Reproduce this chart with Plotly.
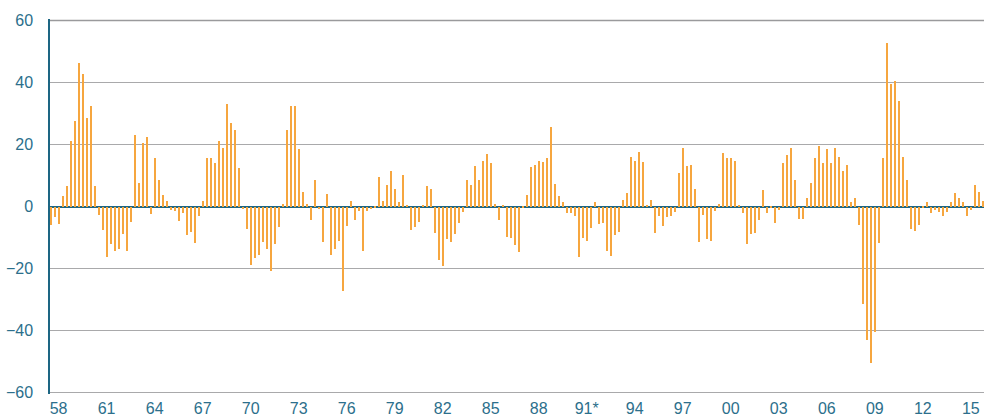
import plotly.graph_objects as go

# quarterly change, % (1958 Q1 onwards)
first_year = 1958
values = [
    -5.9, -3.4, -5.6, 3.3, 6.7, 21.0, 27.7, 46.2, 42.7, 28.5,
    32.3, 6.5, -2.7, -7.7, -16.3, -12.2, -14.3, -13.7, -8.9, -14.3,
    -5.1, 23.2, 7.7, 20.6, 22.3, -2.4, 15.5, 8.4, 3.8, 1.9,
    -1.0, -1.3, -4.8, -2.2, -9.2, -8.2, -11.8, -3.2, 1.8, 15.8,
    15.8, 14.0, 21.2, 19.0, 33.2, 27.0, 24.8, 12.3, -0.8, -7.4,
    -18.9, -16.6, -15.8, -11.6, -13.7, -20.8, -12.2, -6.6, 0.8, 24.6,
    32.3, 32.3, 18.4, 4.8, 0.8, -4.5, 8.7, -0.8, -11.4, 4.0,
    -15.7, -13.7, -11.0, -27.2, -6.3, 1.8, -4.2, -1.5, -14.3, -1.5,
    -0.8, -0.3, 9.4, 1.8, 7.0, 11.4, 5.7, 1.3, 10.2, 0.2,
    -7.6, -6.5, -5.1, 0.4, 6.7, 5.5, -8.4, -17.4, -19.2, -10.4,
    -11.5, -8.9, -5.2, -1.8, 8.7, 7.0, 13.1, 8.4, 14.8, 17.0,
    14.0, 0.8, -4.5, 0.2, -9.9, -10.1, -12.5, -14.8, -0.6, 3.7,
    12.9, 13.4, 14.8, 14.3, 15.5, 25.5, 7.2, 3.3, 1.6, -2.2,
    -2.2, -3.0, -16.3, -10.1, -11.0, -6.9, 1.6, -5.7, -5.4, -14.5,
    -16.0, -9.2, -8.1, 2.2, 4.5, 16.1, 14.8, 17.5, 14.5, 0.4,
    2.2, -8.4, -3.0, -6.2, -3.5, -3.2, -1.8, 10.9, 19.0, 13.1,
    13.4, 5.8, -11.4, -2.8, -10.4, -11.1, -1.6, 0.8, 17.3, 15.8,
    15.8, 14.6, 0.2, -2.2, -12.2, -8.9, -8.4, -4.2, 5.2, -2.2,
    -0.2, -5.4, -1.0, 14.0, 16.7, 18.8, 8.7, -4.0, -4.0, 2.8,
    7.7, 15.8, 19.4, 13.9, 18.4, 14.1, 19.0, 16.0, 11.3, 13.4,
    1.6, 2.8, -6.0, -31.6, -43.1, -50.6, -40.4, -11.8, 15.8, 52.9,
    39.4, 40.5, 34.1, 16.0, 8.4, -7.1, -8.0, -6.0, -0.5, 1.3,
    -2.0, -1.2, -1.8, -3.2, -1.8, 1.6, 4.3, 2.6, 1.3, -3.0,
    -1.2, 6.8, 4.8, 1.9,
]
tick_years = list(range(1958, 2016, 3))
tick_labels = ["58", "61", "64", "67", "70", "73", "76", "79", "82", "85",
               "88", "91*", "94", "97", "00", "03", "06", "09", "12", "15"]

quarters = [first_year + i / 4 for i in range(len(values))]

TEAL = "#2c6f8c"
AXIS_TEAL = "#1d6683"
ORANGE = "#f6a63f"
GRID = "#a9a9ab"

Y_LO, Y_HI = -60.5, 60.5  # padding so plotly keeps the -60 gridline

fig = go.Figure()
fig.add_trace(go.Bar(
    x=quarters,
    y=values,
    width=0.11,
    marker=dict(color=ORANGE, line=dict(width=0)),
    hoverinfo="x+y",
))

top_rule = (60 - Y_LO) / (Y_HI - Y_LO)

fig.update_layout(
    width=984, height=416,
    margin=dict(l=50, r=0, t=19, b=22),
    paper_bgcolor="white",
    plot_bgcolor="white",
    showlegend=False,
    bargap=0,
    font=dict(family="Liberation Sans, Arial, sans-serif", size=16, color=TEAL),
    xaxis=dict(
        range=[first_year - 0.0875, first_year + 58.275],
        tickvals=[y + 0.45 for y in tick_years],
        ticktext=tick_labels,
        showgrid=False,
        zeroline=False,
        showline=False,
        ticks="", ticklabelstandoff=3,
        tickfont=dict(size=16, color=TEAL),
    ),
    yaxis=dict(
        range=[Y_LO, Y_HI],
        dtick=20,
        showgrid=True, gridcolor=GRID, gridwidth=1,
        zeroline=True, zerolinecolor=AXIS_TEAL, zerolinewidth=1.5,
        showline=True, linecolor=AXIS_TEAL, linewidth=1.5,
        ticks="", ticklabelstandoff=12,
        tickfont=dict(size=16, color=TEAL),
    ),
    # top rule at 60 (plotly drops the edge gridline)
    shapes=[dict(type="line", xref="paper", x0=0, x1=1,
                 yref="paper", y0=top_rule, y1=top_rule,
                 line=dict(color="#9a9a9c", width=1.5), layer="above")],
)

# drop the default page margin so the figure sits flush in the window
fig.write_html(
    "out.html",
    config={"displayModeBar": False},
    post_script="document.body.style.margin='0';document.body.style.overflow='hidden';",
)
